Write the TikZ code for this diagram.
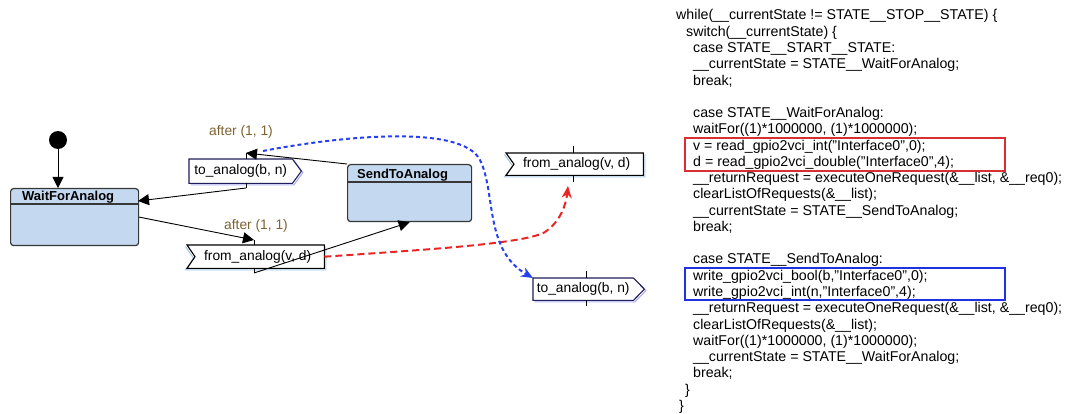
\documentclass[tikz,border=0pt]{standalone}
\usepackage{fontspec}
\setmainfont{Liberation Sans}
\usetikzlibrary{arrows.meta,calc}
\definecolor{stfill}{RGB}{196,217,240}
\definecolor{stbord}{RGB}{55,55,55}
\definecolor{aftercol}{RGB}{125,98,50}
\definecolor{redc}{RGB}{232,38,38}
\definecolor{bluec}{RGB}{38,64,240}
\definecolor{redbx}{RGB}{214,48,48}
\definecolor{bluebx}{RGB}{30,50,225}
\definecolor{shadowb}{RGB}{168,200,228}
\definecolor{shadowl}{RGB}{176,176,240}
\definecolor{navy}{RGB}{30,30,90}
\tikzset{
  statebox/.style={draw=stbord, line width=1.2pt, fill=stfill, rounded corners=3pt, inner sep=0pt},
  sttitle/.style={font=\fontsize{13}{15}\selectfont\bfseries, inner sep=0pt},
  sigtext/.style={font=\fontsize{13.8}{15}\selectfont, inner sep=0pt},
  aftertxt/.style={font=\fontsize{13.8}{15}\selectfont, text=aftercol, inner sep=0pt},
  code/.style={font=\fontsize{14.2}{16}\selectfont, inner sep=0pt, anchor=base west},
  arr/.style={line width=0.9pt, -{Triangle[length=11pt,width=11pt]}},
  tick/.style={line width=0.9pt},
  sigline/.style={line width=1.1pt, fill=white},
  redarr/.style={draw=redc, line width=2pt, dash pattern=on 7pt off 4pt, -{Stealth[length=12pt,width=10pt]}},
  bluearr/.style={draw=bluec, line width=2pt, dash pattern=on 4pt off 3pt, -{Stealth[length=12pt,width=10pt]}},
  hlbox/.style={line width=1.8pt, inner sep=0pt, anchor=north west},
}
\begin{document}
\begin{tikzpicture}[x=1pt,y=-1pt]
\useasboundingbox (0,0) rectangle (1074,414);

% ---- states ----
\node[circle, fill=black, minimum size=18pt, inner sep=0pt] (init) at (58,140) {};
\node[statebox, minimum width=128pt, minimum height=57pt, anchor=north west] (wfa) at (10,188) {};
\draw[draw=stbord, line width=1.2pt] ($(wfa.north west)+(0,16)$) -- ($(wfa.north east)+(0,16)$);
\node[sttitle, anchor=base west] (wfat) at (22,201) {WaitForAnalog};

\node[statebox, minimum width=124pt, minimum height=57pt, anchor=north west] (sta) at (347,164) {};
\draw[draw=stbord, line width=1.2pt] ($(sta.north west)+(0,18)$) -- ($(sta.north east)+(0,18)$);
\node[sttitle, anchor=base west] (stat) at (357,179) {SendToAnalog};

% ---- to_analog (left) ----
\node[sigtext, minimum width=103pt, minimum height=24pt, anchor=north west] (ta1) at (189,159) {};
\draw[draw=shadowl, line width=1.1pt] ($(ta1.north east)+(1.5,1.5)$) -- ($(ta1.east)+(10.5,1.5)$) -- ($(ta1.south east)+(1.5,1.5)$) -- ($(ta1.south west)+(1.5,1.5)$);
\draw[sigline, draw=navy] (ta1.north west) -- (ta1.north east) -- ($(ta1.east)+(9,0)$) -- (ta1.south east) -- (ta1.south west) -- cycle;
\node[sigtext] (ta1t) at (ta1.center) {to\_analog(b, n)};

% ---- from_analog (left) ----
\node[sigtext, minimum width=137pt, minimum height=23pt, anchor=north west] (fa1) at (187,245) {};
\draw[draw=shadowb, line width=1.1pt] ($(fa1.north west)+(-1.5,1.5)$) -- ($(fa1.west)+(6.5,1.5)$) -- ($(fa1.south west)+(-1.5,1.5)$) -- ($(fa1.south east)+(1.5,1.5)$) -- ($(fa1.north east)+(1.5,1.5)$);
\draw[sigline, draw=black] (fa1.north west) -- (fa1.north east) -- (fa1.south east) -- (fa1.south west) -- ($(fa1.west)+(8,0)$) -- cycle;
\node[sigtext] (fa1t) at ($(fa1.center)+(2,0)$) {from\_analog(v, d)};

% ---- from_analog (right) ----
\node[sigtext, minimum width=137pt, minimum height=22pt, anchor=north west] (fa2) at (506,153) {};
\draw[draw=shadowb, line width=1.1pt] ($(fa2.north west)+(-1.5,1.5)$) -- ($(fa2.west)+(6.5,1.5)$) -- ($(fa2.south west)+(-1.5,1.5)$) -- ($(fa2.south east)+(1.5,1.5)$) -- ($(fa2.north east)+(1.5,1.5)$);
\draw[sigline, draw=black] (fa2.north west) -- (fa2.north east) -- (fa2.south east) -- (fa2.south west) -- ($(fa2.west)+(8,0)$) -- cycle;
\node[sigtext] (fa2t) at ($(fa2.center)+(2,0)$) {from\_analog(v, d)};

% ---- to_analog (right) ----
\node[sigtext, minimum width=100pt, minimum height=22pt, anchor=north west] (ta2) at (533,278) {};
\draw[draw=shadowl, line width=1.1pt] ($(ta2.north east)+(1.5,1.5)$) -- ($(ta2.east)+(12.5,1.5)$) -- ($(ta2.south east)+(1.5,1.5)$) -- ($(ta2.south west)+(1.5,1.5)$);
\draw[sigline, draw=navy] (ta2.north west) -- (ta2.north east) -- ($(ta2.east)+(11,0)$) -- (ta2.south east) -- (ta2.south west) -- cycle;
\node[sigtext] (ta2t) at (ta2.center) {to\_analog(b, n)};

% ---- tick coordinates ----
\coordinate (ta1in) at (246,153);
\coordinate (ta1out) at (246,188);
\coordinate (fa1in) at (254,240);
\coordinate (fa1out) at (254,273);
\coordinate (fa2in) at (573,146);
\coordinate (fa2out) at (573,182);
\coordinate (ta2in) at (586,271);
\coordinate (ta2out) at (586,306);
\coordinate (wfain) at (138,201);
\coordinate (fa2tip) at (568,186);
\coordinate (bstart) at (263,151);

\draw[tick] (ta1in) -- (ta1in |- ta1.north);
\draw[tick] (ta1out) -- (ta1out |- ta1.south);
\draw[tick] (fa1in) -- (fa1in |- fa1.north);
\draw[tick] (fa1out) -- (fa1out |- fa1.south);
\draw[tick] (fa2in) -- (fa2in |- fa2.north);
\draw[tick] (fa2out) -- (fa2out |- fa2.south);
\draw[tick] (ta2in) -- (ta2in |- ta2.north);
\draw[tick] (ta2out) -- (ta2out |- ta2.south);

% ---- transitions ----
\draw[arr] (init) -- (init |- wfa.north);
\draw[arr] (wfa.east) -- (fa1in);
\draw[arr] (fa1out) -- (sta.south);
\draw[arr] (sta.north west) -- (ta1in);
\draw[arr] (ta1out) -- (wfain);

\node[aftertxt] (after1) at (241,132) {after (1, 1)};
\node[aftertxt] (after2) at (256,226) {after (1, 1)};

% ---- dashed mappings ----
\draw[redarr] (fa1.east) .. controls (420,250) and (525,244) .. (545,232) .. controls (560,222) and (566,205) .. (fa2tip);
\draw[bluearr] (bstart) .. controls (340,136) and (462,124) .. (480,160) .. controls (496,192) and (484,250) .. (ta2.north west);

% ---- code ----
\node[code] (c0) at (676,20) {while(\_\_currentState != STATE\_\_STOP\_\_STATE) \{};
\node[code] (c1) at (686,36.3) {switch(\_\_currentState) \{};
\node[code] (c2) at (693,52.5) {case STATE\_\_START\_\_STATE:};
\node[code] (c3) at (693,68.8) {\_\_currentState = STATE\_\_WaitForAnalog;};
\node[code] (c4) at (693,85.1) {break;};
\node[code] (c6) at (693,117.6) {case STATE\_\_WaitForAnalog:};
\node[code] (c7) at (693,133.9) {waitFor((1)*1000000, (1)*1000000);};
\node[code] (c8) at (693,150.2) {v = read\_gpio2vci\_int("Interface0",0);};
\node[code] (c9) at (693,166.4) {d = read\_gpio2vci\_double("Interface0",4);};
\node[code] (c10) at (693,182.7) {\_\_returnRequest = executeOneRequest(\&\_\_list, \&\_\_req0);};
\node[code] (c11) at (693,199.0) {clearListOfRequests(\&\_\_list);};
\node[code] (c12) at (693,215.2) {\_\_currentState = STATE\_\_SendToAnalog;};
\node[code] (c13) at (693,231.5) {break;};
\node[code] (c15) at (693,264.0) {case STATE\_\_SendToAnalog:};
\node[code] (c16) at (693,280.3) {write\_gpio2vci\_bool(b,"Interface0",0);};
\node[code] (c17) at (693,296.6) {write\_gpio2vci\_int(n,"Interface0",4);};
\node[code] (c18) at (693,312.8) {\_\_returnRequest = executeOneRequest(\&\_\_list, \&\_\_req0);};
\node[code] (c19) at (693,329.1) {clearListOfRequests(\&\_\_list);};
\node[code] (c20) at (693,345.4) {waitFor((1)*1000000, (1)*1000000);};
\node[code] (c21) at (693,361.6) {\_\_currentState = STATE\_\_WaitForAnalog;};
\node[code] (c22) at (693,377.9) {break;};
\node[code] (c23) at (685,394.2) {\}};
\node[code] (c24) at (679,410.5) {\}};

\node[hlbox, draw=redbx, minimum width=320pt, minimum height=33pt] (hlred) at (684,137) {};
\node[hlbox, draw=bluebx, minimum width=320pt, minimum height=32pt] (hlblue) at (684,267) {};
\end{tikzpicture}
\end{document}
